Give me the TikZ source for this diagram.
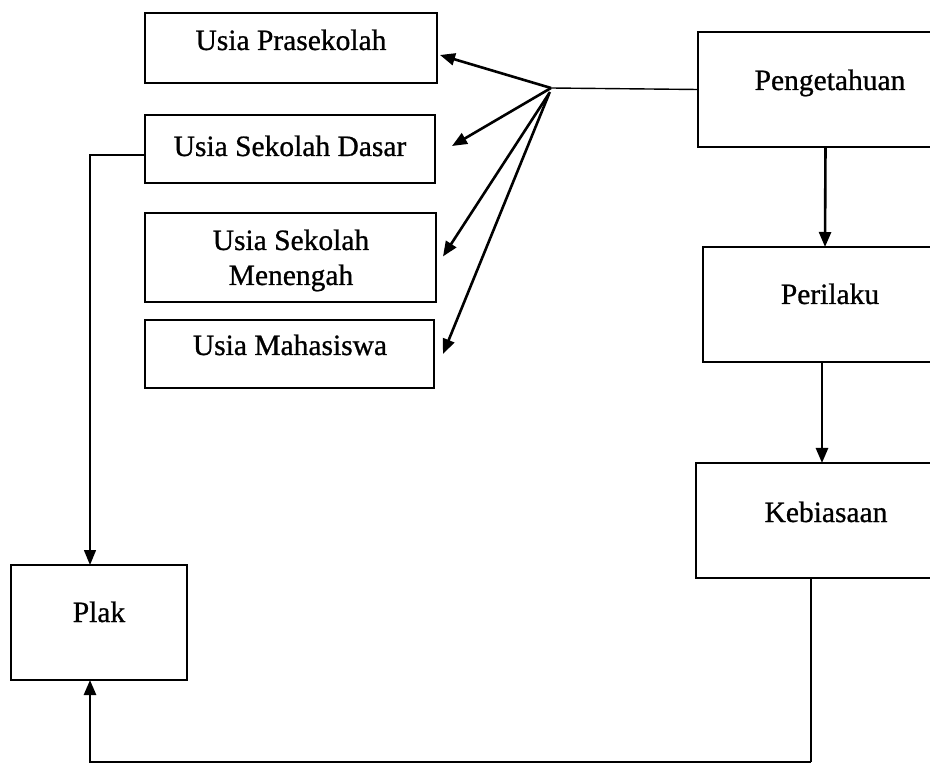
\documentclass[tikz,border=0pt]{standalone}
\usepackage{fontspec}
\setmainfont[FakeBold=0.8]{Liberation Serif}
\usetikzlibrary{arrows.meta,calc}
\begin{document}
\begin{tikzpicture}[x=1pt,y=-1pt,
  box/.style={draw, line width=2.4pt, inner sep=0pt, outer sep=0pt},
  lbl/.style={font=\fontsize{29.5}{35}\selectfont, inner sep=0pt, anchor=base},
  tip/.style={-{Triangle[length=15pt,width=12pt]}},
  heavy/.style={line width=2.6pt},
  light/.style={line width=1.4pt}]
\useasboundingbox (0,0) rectangle (930,767);
\fill[white] (0,0) rectangle (930,767);
\clip (0,0) rectangle (930,767);
% left boxes
\node[box, minimum width=292pt, minimum height=70pt] (pra) at (291,48) {};
\node[box, minimum width=290pt, minimum height=68pt] (dasar) at (290,149) {};
\node[box, minimum width=291pt, minimum height=89pt] (men) at (290.5,257.5) {};
\node[box, minimum width=289pt, minimum height=68pt] (maha) at (289.5,354) {};
% right boxes
\node[box, minimum width=265pt, minimum height=115pt] (peng) at (830.5,89.5) {};
\node[box, minimum width=260pt, minimum height=115pt] (peri) at (833,304.5) {};
\node[box, minimum width=267pt, minimum height=115pt] (kebi) at (829.5,520.5) {};
\node[box, minimum width=176pt, minimum height=115pt] (plak) at (99,622.5) {};
% texts
\node[lbl] (tpra) at (291,50) {Usia Prasekolah};
\node[lbl] (tdasar) at (290,156) {Usia Sekolah Dasar};
\node[lbl] (tmen1) at (291,250) {Usia Sekolah};
\node[lbl] (tmen2) at (291,285) {Menengah};
\node[lbl] (tmaha) at (290,355) {Usia Mahasiswa};
\node[lbl] (tpeng) at (830,90) {Pengetahuan};
\node[lbl] (tperi) at (830,304) {Perilaku};
\node[lbl] (tkebi) at (826,522) {Kebiasaan};
\node[lbl] (tplak) at (99,622) {Plak};
% hub
\coordinate (hub) at (551,88);
\draw[light] (peng.west) -- (hub);
\draw[heavy, tip] (hub) -- ($(pra.east)+(3,7)$);
\draw[heavy, tip] (hub) -- ($(dasar.east)+(17,-3)$);
\draw[heavy, tip] ($(hub)+(-1,4)$) -- ($(men.east)+(7,-1)$);
\draw[heavy, tip] ($(hub)+(-2,6)$) -- ($(maha.east)+(9,0)$);
% right chain
\draw[heavy, tip] ($(peng.south)+(-5,0)$) -- ($(peri.north)+(-8,0)$);
\draw[heavy, tip] ($(peri.south)+(-11,0)$) -- ($(kebi.north)+(-7.5,0)$);
% Dasar -> Plak
\draw[light, tip] ($(dasar.west)+(0,6)$) -| ($(plak.north)+(-9,0)$);
% Kebiasaan -> Plak
\coordinate (kb) at ($(kebi.south)+(-18.5,0)$);
\draw[light] (kb) -- (kb |- 0,762);
\draw[heavy, tip] (kb |- 0,762) -| ($(plak.south)+(-9,0)$);
\end{tikzpicture}
\end{document}
